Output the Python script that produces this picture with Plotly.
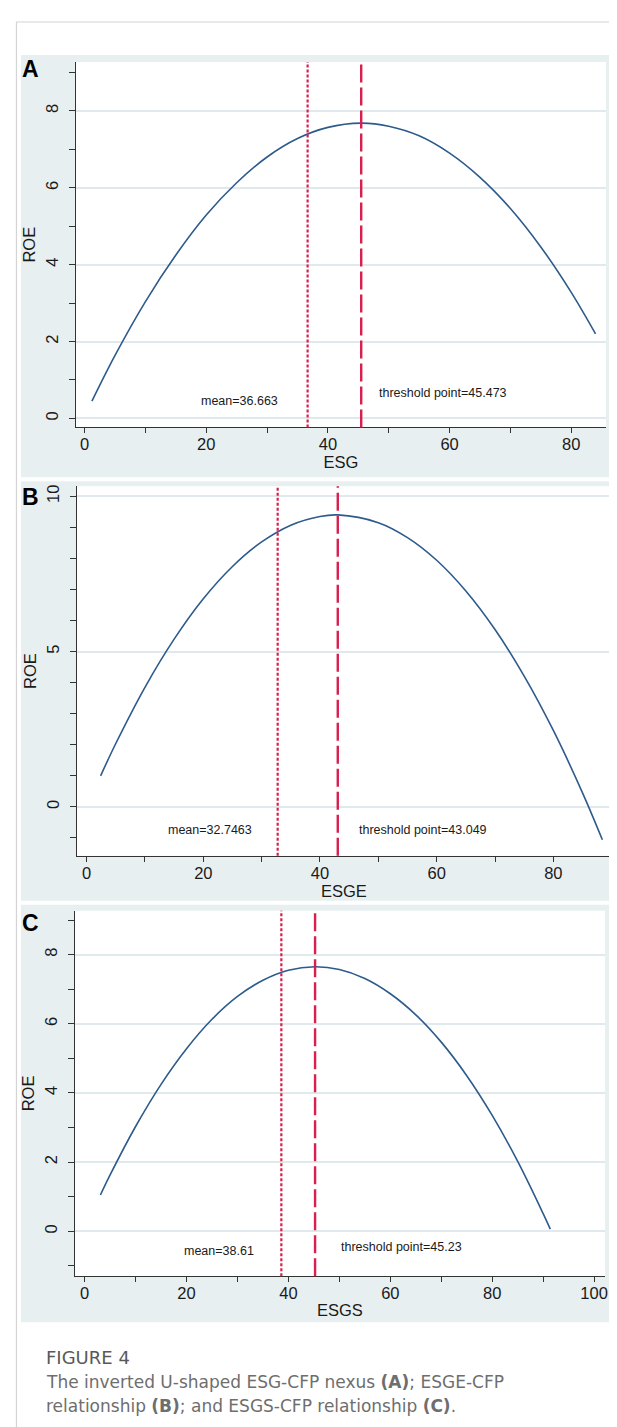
import plotly.graph_objects as go

W, H = 617, 1427

# ---------------- data ----------------
esg_x = [1.2, 5, 10, 15, 20, 25, 30, 35, 40, 45.473, 50, 55, 60, 65, 70, 75, 80, 84]
esg_roe = [0.45, 1.64, 3.04, 4.25, 5.29, 6.13, 6.80, 7.28, 7.57, 7.68, 7.60, 7.35, 6.90, 6.27, 5.46, 4.46, 3.28, 2.20]

esge_x = [2.4, 5, 10, 15, 20, 25, 30, 35, 40, 43.049, 50, 55, 60, 65, 70, 75, 80, 85, 88.4]
esge_roe = [1.00, 2.04, 3.85, 5.40, 6.70, 7.74, 8.53, 9.07, 9.35, 9.40, 9.15, 8.67, 7.94, 6.95, 5.71, 4.21, 2.46, 0.45, -1.06]

esgs_x = [3.1, 5, 10, 15, 20, 25, 30, 35, 40, 45.23, 50, 55, 60, 65, 70, 75, 80, 85, 90, 91.4]
esgs_roe = [1.05, 1.63, 3.03, 4.25, 5.28, 6.13, 6.79, 7.26, 7.55, 7.65, 7.57, 7.31, 6.87, 6.26, 5.47, 4.50, 3.35, 2.02, 0.51, 0.06]

panel_letters = ["A", "B", "C"]
x_titles = ["ESG", "ESGE", "ESGS"]
y_title = "ROE"
means = [36.663, 32.7463, 38.61]
thresholds = [45.473, 43.049, 45.23]
mean_labels = ["mean=36.663", "mean=32.7463", "mean=38.61"]
thr_labels = ["threshold point=45.473", "threshold point=43.049", "threshold point=45.23"]

x_major = [[0, 20, 40, 60, 80], [0, 20, 40, 60, 80], [0, 20, 40, 60, 80, 100]]
x_minor = [[10, 30, 50, 70], [10, 30, 50, 70], [10, 30, 50, 70, 90]]
y_major = [[0, 2, 4, 6, 8], [0, 5, 10], [0, 2, 4, 6, 8]]
y_minor = [[1, 3, 5, 7, 9], [-1, 1, 2, 3, 4, 6, 7, 8, 9], [-1, 1, 3, 5, 7, 9]]

# ---------------- layout geometry (pixels) ----------------
plot_px = [(68, 601, 52, 418), (69, 606, 477, 847), (67, 600, 902, 1268)]
x_ranges = [[-1.47, 85.73], [-1.706, 89.89], [-1.953, 102.15]]
y_ranges = [[-0.234, 9.273], [-1.576, 10.32], [-1.30, 9.27]]
panel_bg_px = [(13, 614, 45, 468), (13, 612, 472, 892), (13, 610, 896, 1314)]
letter_y = [59, 488, 914]
mean_text_pos = [(25.4, 0.45), (21.2, -0.75), (26.4, -0.58)]
thr_text_pos = [(59.0, 0.66), (57.7, -0.75), (62.1, -0.46)]


def px(x):
    return x / W


def py(y):
    return 1 - y / H


CURVE = "#2c5b8c"
RED = "#d81f4d"
BG = "#e8eff1"
GRID = "#e0e9ec"
AXC = "#333333"
FONT = "Liberation Sans, Arial, sans-serif"

series = [(esg_x, esg_roe), (esge_x, esge_roe), (esgs_x, esgs_roe)]

fig = go.Figure()
shapes = []
annotations = []

for i in range(3):
    sx = "" if i == 0 else str(i + 1)
    xa = "x" + sx
    ya = "y" + sx
    l, r, t, b = plot_px[i]
    fig.add_trace(go.Scatter(
        x=series[i][0], y=series[i][1], mode="lines",
        line=dict(color=CURVE, width=1.6, shape="spline", smoothing=1.0),
        xaxis=xa, yaxis=ya, showlegend=False, hoverinfo="x+y"))

    axis_common = dict(showline=True, linecolor=AXC, linewidth=1, zeroline=False,
                       ticks="outside", tickwidth=1, tickcolor=AXC,
                       tickfont=dict(family=FONT, size=16.5, color="#1a1a1a"))
    fig.layout["xaxis" + sx] = dict(
        domain=[px(l), px(r)], range=x_ranges[i], anchor=ya,
        tickmode="array", tickvals=x_major[i], showgrid=False, ticklen=5,
        ticklabelstandoff=-3,
        minor=dict(tickvals=x_minor[i], ticks="outside", ticklen=5, tickwidth=1,
                   tickcolor=AXC, showgrid=False),
        title=dict(text=x_titles[i], font=dict(family=FONT, size=16.5, color="#1a1a1a"), standoff=3),
        **axis_common)
    fig.layout["yaxis" + sx] = dict(
        domain=[py(b), py(t)], range=y_ranges[i], anchor=xa,
        tickmode="array", tickvals=y_major[i], tickangle=-90, ticklen=6,
        showgrid=True, gridcolor=GRID, gridwidth=1.5,
        ticklabelstandoff=4,
        minor=dict(tickvals=y_minor[i], ticks="outside", ticklen=6, tickwidth=1,
                   tickcolor=AXC, showgrid=False),
        title=dict(text=y_title, font=dict(family=FONT, size=16.5, color="#1a1a1a"), standoff=3),
        **axis_common)

    bl, br, bt, bb = panel_bg_px[i]
    shapes.append(dict(type="rect", xref="paper", yref="paper",
                       x0=px(bl), x1=px(br), y0=py(bb), y1=py(bt),
                       fillcolor=BG, line=dict(width=0), layer="below"))
    shapes.append(dict(type="rect", xref="paper", yref="paper",
                       x0=px(l), x1=px(r), y0=py(b), y1=py(t),
                       fillcolor="white", line=dict(width=0), layer="below"))
    shapes.append(dict(type="line", xref=xa, yref=ya + " domain",
                       x0=means[i], x1=means[i], y0=0, y1=1,
                       line=dict(color=RED, width=2.2, dash="3px,2px")))
    shapes.append(dict(type="line", xref=xa, yref=ya + " domain",
                       x0=thresholds[i], x1=thresholds[i], y0=0, y1=1,
                       line=dict(color=RED, width=2.4, dash="18px,5px")))

    annotations.append(dict(text=mean_labels[i], xref=xa, yref=ya,
                            x=mean_text_pos[i][0], y=mean_text_pos[i][1],
                            showarrow=False, xanchor="center", yanchor="middle",
                            font=dict(family=FONT, size=12.5, color="#1a1a1a")))
    annotations.append(dict(text=thr_labels[i], xref=xa, yref=ya,
                            x=thr_text_pos[i][0], y=thr_text_pos[i][1],
                            showarrow=False, xanchor="center", yanchor="middle",
                            font=dict(family=FONT, size=12.5, color="#1a1a1a")))
    annotations.append(dict(text="<b>%s</b>" % panel_letters[i], xref="paper", yref="paper",
                            x=px(12), y=py(letter_y[i]), showarrow=False,
                            xanchor="left", yanchor="middle",
                            font=dict(family=FONT, size=23, color="black")))

# outer card borders
shapes.append(dict(type="line", xref="paper", yref="paper", x0=px(8), x1=1,
                   y0=py(12), y1=py(12), line=dict(color="#d4d4d4", width=1.2)))
shapes.append(dict(type="line", xref="paper", yref="paper", x0=px(8.5), x1=px(8.5),
                   y0=py(12), y1=0, line=dict(color="#d4d4d4", width=1.2)))

# caption
CAP = "DejaVu Sans, Open Sans, sans-serif"
annotations.append(dict(text="FIGURE 4", xref="paper", yref="paper", x=px(36), y=py(1349),
                        showarrow=False, xanchor="left", yanchor="middle",
                        font=dict(family=CAP, size=18, color="#595959")))
annotations.append(dict(text="The inverted U-shaped ESG-CFP nexus <b>(A)</b>; ESGE-CFP",
                        xref="paper", yref="paper", x=px(36), y=py(1374),
                        showarrow=False, xanchor="left", yanchor="middle",
                        font=dict(family=CAP, size=17, color="#6e6e6e")))
annotations.append(dict(text="relationship <b>(B)</b>; and ESGS-CFP relationship <b>(C)</b>.",
                        xref="paper", yref="paper", x=px(36), y=py(1398),
                        showarrow=False, xanchor="left", yanchor="middle",
                        font=dict(family=CAP, size=17, color="#6e6e6e")))

fig.update_layout(width=W, height=H, autosize=False,
                  margin=dict(l=0, r=0, t=0, b=0),
                  paper_bgcolor="white", plot_bgcolor="white",
                  shapes=shapes, annotations=annotations, showlegend=False,
                  font=dict(family=FONT))

fig.write_html("out.html")
